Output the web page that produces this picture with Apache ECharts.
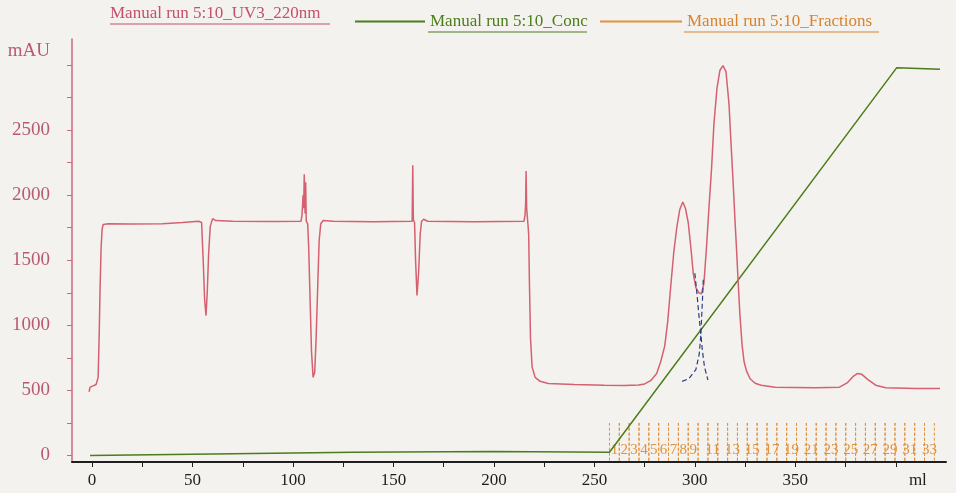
<!DOCTYPE html>
<html>
<head>
<meta charset="utf-8">
<title>Manual run 5:10</title>
<script src="https://cdn.jsdelivr.net/npm/echarts@6.0.0/dist/echarts.min.js"></script>
<style>
	html, body { margin: 0; padding: 0; background: #f4f2ee; }
	#js-chrom { width: 956px; height: 493px; }
</style>
</head>
<body>
<div id="js-chrom"></div>
<script>
// UV trace, [ml, mAU]
var uvPoints = [
	[-1.5, 490], [-1, 525], [0.5, 535], [2, 545], [3, 600], [3.5, 900], [4, 1300], [4.5, 1600], [5, 1740], [5.5, 1775],
	[8, 1780], [20, 1778], [35, 1780], [45, 1790], [53, 1800], [54.5, 1790], [55.3, 1500], [56, 1200], [56.7, 1075],
	[57.3, 1250], [58, 1550], [58.8, 1760], [60, 1820], [61.5, 1805], [70, 1800], [90, 1798], [104, 1800],
	[104.5, 1850], [105, 2000], [105.3, 1900], [105.6, 2160], [106, 1860], [106.3, 2100], [106.6, 1800],
	[107.3, 1780], [107.8, 1600], [108.5, 1200], [109.2, 800], [110, 600], [110.8, 640], [111.5, 900],
	[112.3, 1300], [113, 1650], [113.8, 1780], [115, 1805], [120, 1800], [140, 1795], [159.3, 1800],
	[159.6, 2230], [159.9, 1810], [160.5, 1790], [161, 1500], [161.7, 1230], [162.5, 1400], [163.3, 1700],
	[164, 1800], [165, 1815], [167, 1800], [190, 1795], [215, 1800], [215.5, 1850], [215.8, 1950], [216, 2185],
	[216.3, 1900], [216.8, 1800], [217.3, 1700], [217.7, 1300], [218.2, 900], [219, 680], [220.5, 600],
	[223, 570], [227, 553], [240, 545], [255, 540], [265, 538], [272, 542], [275, 550], [278, 575], [281, 630],
	[283, 720], [285, 840], [286.5, 1030], [288, 1300], [289.5, 1560], [291, 1750], [292.5, 1890], [294, 1948],
	[295.3, 1900], [296.7, 1790], [298, 1600], [299.2, 1400], [300.5, 1290], [302, 1250], [303.3, 1243],
	[304.5, 1320], [305.8, 1600], [307, 1900], [308.3, 2200], [309.5, 2550], [311, 2820], [312.5, 2960],
	[314, 2995], [315.5, 2950], [317, 2700], [318, 2400], [319, 2115], [320, 1800], [320.7, 1600], [321.5, 1350],
	[322.4, 1090], [323.5, 850], [324.5, 720], [325.7, 650], [327.5, 590], [330, 555], [333, 540], [340, 525],
	[360, 520], [372, 525], [376, 560], [379, 610], [381, 630], [383, 625], [386, 585], [390, 540], [395, 520],
	[410, 515], [422, 515]
];

// gradient (Conc), drawn on the same scale as printed
var concPoints = [[-1, 0], [60, 12], [130, 25], [200, 30], [257.5, 25], [400.5, 2980], [422, 2968]];

// dashed peak-cut curves between the two peaks
var cutA = [[300, 1400], [301, 1250], [302, 1080], [303, 930], [303.8, 800], [304.8, 680], [306.5, 580]];
var cutB = [[304.2, 1350], [303.8, 1200], [303.4, 1070], [303, 930], [302.2, 780], [300.5, 660], [297, 590], [293, 565]];

// fraction edges (ml) and their printed labels
var fracEdges = [257.5, 262.4, 267.3, 272.2, 277.1, 282, 286.9, 291.8, 296.7, 301.6, 306.5, 311.4, 316.3, 321.2,
	326.1, 331, 335.9, 340.8, 345.7, 350.6, 355.5, 360.4, 365.3, 370.2, 375.1, 380, 384.9, 389.8, 394.7,
	399.6, 404.5, 409.4, 414.3, 419.2];
var fracLabels = ['1', '2', '3', '4', '5', '6', '7', '8', '9', '', '11', '', '13', '', '15', '', '17', '', '19', '',
	'21', '', '23', '', '25', '', '27', '', '29', '', '31', '', '33'];

// axis ticks / labels
var xTicks = [0, 25, 50, 75, 100, 125, 150, 175, 200, 225, 250, 275, 300, 325, 350, 375, 400];
var xLabels = [0, 50, 100, 150, 200, 250, 300, 350, 411];
var yTicks = [0, 250, 500, 750, 1000, 1250, 1500, 1750, 2000, 2250, 2500, 2750, 3000];
var yLabels = [0, 500, 1000, 1500, 2000, 2500, 3110];

var UV_NAME = 'Manual run 5:10_UV3_220nm';
var CONC_NAME = 'Manual run 5:10_Conc';
var FRAC_NAME = 'Manual run 5:10_Fractions';

var serif = 'Liberation Serif';
var uvColor = '#d5606f';
var concColor = '#4b7d1b';
var fracColor = '#e2913c';

initChromChart();

function initChromChart(){
	var chart = echarts.init(document.getElementById('js-chrom'));

	var fracData = fracLabels.map(function(l, i){
		return [fracEdges[i], fracEdges[i + 1], 0];
	});

	var option = {
		backgroundColor: '#f4f2ee',
		animation: false,
		textStyle: { fontFamily: serif },
		grid: { left: 72, right: 10, top: 39, bottom: 31 },
		legend: [
			{
				data: [UV_NAME], left: 100, top: 0, itemWidth: 0, itemHeight: 2, icon: 'rect',
				textStyle: { color: '#c4506a', fontSize: 17, fontFamily: serif }
			},
			{
				data: [CONC_NAME], left: 350, top: 8, itemWidth: 70, itemHeight: 2, icon: 'rect',
				textStyle: { color: concColor, fontSize: 17, fontFamily: serif }
			},
			{
				data: [FRAC_NAME], left: 595, top: 8, itemWidth: 82, itemHeight: 2, icon: 'rect',
				textStyle: { color: '#d9822c', fontSize: 17, fontFamily: serif }
			}
		],
		graphic: [
			{ type: 'line', shape: { x1: 110, y1: 24, x2: 330, y2: 24 }, style: { stroke: '#c4506a', lineWidth: 1 } },
			{ type: 'line', shape: { x1: 428, y1: 32, x2: 587, y2: 32 }, style: { stroke: concColor, lineWidth: 1 } },
			{ type: 'line', shape: { x1: 684, y1: 32, x2: 879, y2: 32 }, style: { stroke: '#d9822c', lineWidth: 1 } }
		],
		xAxis: {
			type: 'value', min: -10, max: 425,
			axisLine: { onZero: false, lineStyle: { color: '#1e1e1e', width: 2 } },
			axisTick: { customValues: xTicks, length: 5, lineStyle: { color: '#1e1e1e' } },
			axisLabel: {
				customValues: xLabels, color: '#1e1e1e', fontSize: 17, fontFamily: serif, margin: 10,
				formatter: function(v){ return v === 411 ? 'ml' : v; }
			},
			splitLine: { show: false }
		},
		yAxis: {
			type: 'value', min: -50, max: 3200,
			axisLine: { show: true, onZero: false, lineStyle: { color: '#c86a7e', width: 1.5 } },
			axisTick: { show: true, customValues: yTicks, length: 5, lineStyle: { color: '#c86a7e' } },
			axisLabel: {
				customValues: yLabels, color: '#b85a70', fontSize: 19, fontFamily: serif, margin: 22,
				formatter: function(v){ return v === 3110 ? 'mAU' : v; }
			},
			splitLine: { show: false }
		},
		series: [
			{
				name: FRAC_NAME,
				type: 'custom',
				itemStyle: { color: fracColor },
				encode: { x: [0, 1], y: 2 },
				data: fracData,
				renderItem: function(params, api){
					var a0 = api.coord([api.value(0), -40]);
					var a1 = api.coord([api.value(0), 250]);
					var b0 = api.coord([api.value(1), -40]);
					var b1 = api.coord([api.value(1), 250]);
					var mid = api.coord([(api.value(0) + api.value(1)) / 2, 40]);
					var dash = { stroke: fracColor, lineWidth: 1, lineDash: [3, 2] };
					return {
						type: 'group',
						children: [
							{ type: 'line', shape: { x1: a0[0], y1: a0[1], x2: a1[0], y2: a1[1] }, style: dash },
							{ type: 'line', shape: { x1: b0[0], y1: b0[1], x2: b1[0], y2: b1[1] }, style: dash },
							{
								type: 'text', x: mid[0], y: mid[1],
								style: {
									text: fracLabels[params.dataIndex], fill: fracColor,
									font: '15px ' + serif, align: 'center', verticalAlign: 'middle'
								}
							}
						]
					};
				}
			},
			{
				name: CONC_NAME,
				type: 'line',
				symbol: 'none',
				data: concPoints,
				lineStyle: { color: concColor, width: 1.5 },
				itemStyle: { color: concColor }
			},
			{
				name: UV_NAME,
				type: 'line',
				symbol: 'none',
				data: uvPoints,
				lineStyle: { color: uvColor, width: 1.5 },
				itemStyle: { color: uvColor }
			},
			{
				name: 'cutA',
				type: 'line',
				symbol: 'none',
				silent: true,
				data: cutA,
				lineStyle: { color: '#2b3c8a', width: 1.2, type: [5, 3] }
			},
			{
				name: 'cutB',
				type: 'line',
				symbol: 'none',
				silent: true,
				data: cutB,
				lineStyle: { color: '#2b3c8a', width: 1.2, type: [5, 3] }
			}
		]
	};
	chart.setOption(option);
}
</script>
</body>
</html>
